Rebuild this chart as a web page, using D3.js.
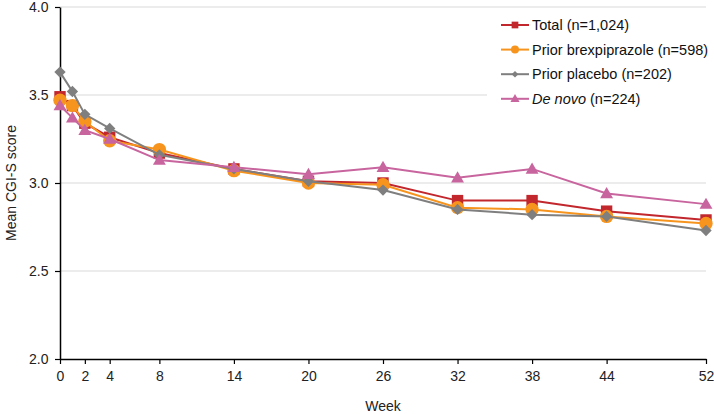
<!DOCTYPE html>
<html><head><meta charset="utf-8">
<script src="https://cdn.jsdelivr.net/npm/d3@7"></script>
<style>body{margin:0;background:#fff}svg{display:block;font-family:"Liberation Sans",Arial,sans-serif}</style>
</head><body>
<script>
const weeks = [0, 1, 2, 4, 8, 14, 20, 26, 32, 38, 44, 52];
const xTicks = [0, 2, 4, 8, 14, 20, 26, 32, 38, 44, 52];
const yTicks = [2.0, 2.5, 3.0, 3.5, 4.0];
const total = [3.49, 3.44, 3.34, 3.26, 3.17, 3.08, 3.01, 3.00, 2.90, 2.90, 2.84, 2.79];
const priorBrex = [3.47, 3.44, 3.35, 3.24, 3.19, 3.07, 3.00, 2.99, 2.86, 2.85, 2.81, 2.77];
const priorPlacebo = [3.63, 3.52, 3.39, 3.31, 3.16, 3.08, 3.01, 2.96, 2.85, 2.82, 2.81, 2.73];
const deNovo = [3.44, 3.37, 3.30, 3.25, 3.13, 3.09, 3.05, 3.09, 3.03, 3.08, 2.94, 2.88];

const series = [
  {name: "Total", n: " (n=1,024)", values: total, color: "#c1272d", shape: "square", italic: false},
  {name: "Prior brexpiprazole", n: " (n=598)", values: priorBrex, color: "#f7941d", shape: "circle", italic: false},
  {name: "Prior placebo", n: " (n=202)", values: priorPlacebo, color: "#7f7f7f", shape: "diamond", italic: false},
  {name: "De novo", n: " (n=224)", values: deNovo, color: "#c8649e", shape: "triangle", italic: true}
];

const W = 714, H = 414;
const svg = d3.select("body").append("svg").attr("width", W).attr("height", H);
const x = d3.scaleLinear().domain([0, 52]).range([60, 706]);
const y = d3.scaleLinear().domain([2, 4]).range([359, 7]);

// gridlines
svg.append("g").selectAll("line").data(yTicks.filter(d => d > 2)).join("line")
  .attr("x1", 60).attr("x2", 706).attr("y1", d => y(d)).attr("y2", d => y(d))
  .attr("stroke", "#d9d9d9").attr("stroke-width", 1);

// axes
const xAxis = svg.append("g").attr("transform", `translate(0,${y(2)})`)
  .call(d3.axisBottom(x).tickValues(xTicks).tickFormat(d3.format("d")).tickSize(5).tickSizeOuter(0));
const yAxis = svg.append("g").attr("transform", `translate(${x(0)},0)`)
  .call(d3.axisLeft(y).tickValues(yTicks).tickFormat(d3.format(".1f")).tickSize(5).tickSizeOuter(0));
[xAxis, yAxis].forEach(a => {
  a.select(".domain").attr("stroke", "#000").attr("stroke-width", 1.5);
  a.selectAll(".tick line").attr("stroke", "#000").attr("stroke-width", 1.2);
  a.selectAll("text").attr("font-size", 14).attr("fill", "#222")
    .attr("font-family", '"Liberation Sans",Arial,sans-serif');
});
xAxis.selectAll("text").attr("dy", "1.0em");
yAxis.selectAll("text").attr("dx", "-0.25em");

// axis titles
svg.append("text").attr("x", 383).attr("y", 411).attr("text-anchor", "middle")
  .attr("font-size", 14).attr("fill", "#222").text("Week");
svg.append("text").attr("transform", `translate(16,${y(3)}) rotate(-90)`).attr("text-anchor", "middle")
  .attr("font-size", 14).attr("fill", "#222").text("Mean CGI-S score");

const symbolFor = (shape, big) => {
  const types = {square: d3.symbolSquare, circle: d3.symbolCircle, diamond: d3.symbolSquare, triangle: d3.symbolTriangle};
  const sizes = big ? {square: 130, circle: 140, diamond: 64, triangle: 72} : {square: 45, circle: 50, diamond: 22, triangle: 36};
  return d3.symbol().type(types[shape]).size(sizes[shape]);
};

const line = d3.line().x(d => x(d[0])).y(d => y(d[1]));
series.forEach(s => {
  const pts = weeks.map((w, i) => [w, s.values[i]]);
  const g = svg.append("g");
  g.append("path").datum(pts).attr("d", line).attr("fill", "none")
    .attr("stroke", s.color).attr("stroke-width", 2);
  g.selectAll("path.m").data(pts).join("path").attr("class", "m")
    .attr("transform", d => `translate(${x(d[0])},${y(d[1]) + (s.shape === "triangle" ? 1 : 0)})` + (s.shape === "diamond" ? " rotate(45)" : ""))
    .attr("d", symbolFor(s.shape, true)).attr("fill", s.color);
});

// legend
const lg = svg.append("g");
lg.append("rect").attr("x", 487).attr("y", 12).attr("width", 227).attr("height", 100).attr("fill", "#fff");
series.forEach((s, i) => {
  const yy = 25 + i * 24.6;
  lg.append("line").attr("x1", 501).attr("x2", 529).attr("y1", yy).attr("y2", yy)
    .attr("stroke", s.color).attr("stroke-width", 2);
  lg.append("path").attr("transform", `translate(515,${yy + (s.shape === "triangle" ? 0.5 : 0)})` + (s.shape === "diamond" ? " rotate(45)" : ""))
    .attr("d", symbolFor(s.shape, false)).attr("fill", s.color);
  const t = lg.append("text").attr("x", 532).attr("y", yy + 5).attr("font-size", 14.5).attr("fill", "#111");
  t.append("tspan").attr("font-style", s.italic ? "italic" : "normal").text(s.name);
  t.append("tspan").text(s.n);
});
</script>
</body></html>
